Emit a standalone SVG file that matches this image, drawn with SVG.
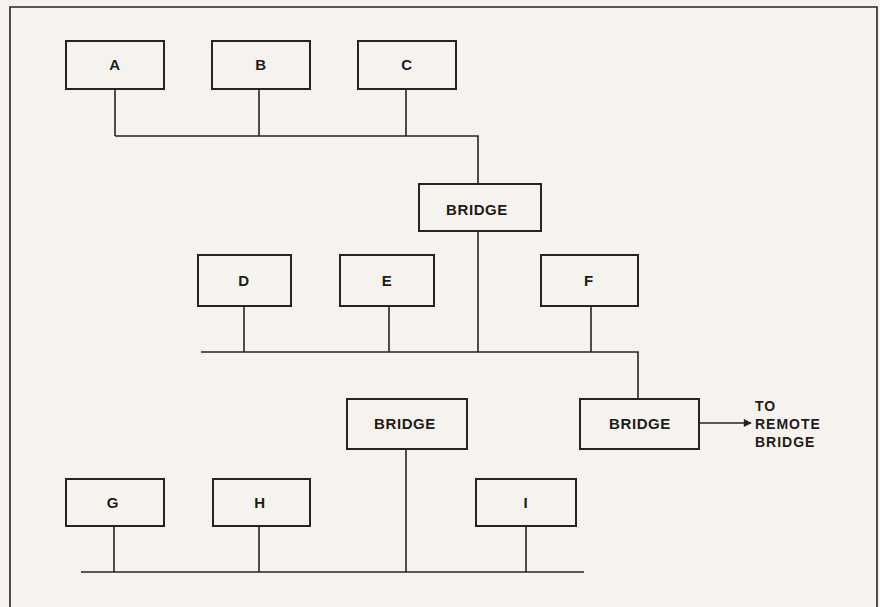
<svg xmlns="http://www.w3.org/2000/svg" width="880" height="607" viewBox="0 0 880 607">
<defs>
<style>
.box{fill:none;stroke:#262422;stroke-width:2}
.ln{fill:none;stroke:#262422;stroke-width:1.6}
.lbl{font-family:"Liberation Sans",Arial,sans-serif;font-weight:bold;font-size:15px;fill:#1e1c1a;text-anchor:middle;letter-spacing:0.6px}
.note{font-family:"Liberation Sans",Arial,sans-serif;font-weight:bold;font-size:14px;fill:#1e1c1a;letter-spacing:1px}
</style>
<marker id="arr" viewBox="0 0 10 10" refX="9" refY="5" markerWidth="9" markerHeight="8" orient="auto" markerUnits="userSpaceOnUse">
<path d="M0,0 L10,5 L0,10 z" fill="#262422"/>
</marker>
</defs>
<rect x="0" y="0" width="880" height="607" fill="#f6f3ee"/>
<path class="ln" d="M10,607 V7 H877 V607" stroke="#4a4744" stroke-width="1.5"/>
<g id="connectors">
<path class="ln" d="M115,89 V136 M259,89 V136 M406,89 V136 M115,136 H478 V183"/>
<path class="ln" d="M478,231 V352"/>
<path class="ln" d="M201,352 H638 V399 M244,306 V352 M389,306 V352 M591,306 V352"/>
<path class="ln" d="M406,449 V572"/>
<path class="ln" d="M81,572 H584 M114,526 V572 M259,526 V572 M526,526 V572"/>
<path class="ln" d="M699,423 H751" marker-end="url(#arr)"/>
</g>
<g id="node-A"><rect class="box" x="66" y="41" width="98" height="48"/><text class="lbl" x="115" y="70">A</text></g>
<g id="node-B"><rect class="box" x="212" y="41" width="98" height="48"/><text class="lbl" x="261" y="70">B</text></g>
<g id="node-C"><rect class="box" x="358" y="41" width="98" height="48"/><text class="lbl" x="407" y="70">C</text></g>
<g id="node-bridge1"><rect class="box" x="419" y="184" width="122" height="47"/><text class="lbl" x="477" y="215">BRIDGE</text></g>
<g id="node-D"><rect class="box" x="198" y="255" width="93" height="51"/><text class="lbl" x="244" y="286">D</text></g>
<g id="node-E"><rect class="box" x="340" y="255" width="94" height="51"/><text class="lbl" x="387" y="286">E</text></g>
<g id="node-F"><rect class="box" x="541" y="255" width="97" height="51"/><text class="lbl" x="589" y="286">F</text></g>
<g id="node-bridge2"><rect class="box" x="347" y="399" width="120" height="50"/><text class="lbl" x="405" y="429">BRIDGE</text></g>
<g id="node-bridge3"><rect class="box" x="580" y="399" width="119" height="50"/><text class="lbl" x="640" y="429">BRIDGE</text></g>
<g id="node-remote"><text class="note" x="755" y="411">TO</text><text class="note" x="755" y="429">REMOTE</text><text class="note" x="755" y="447">BRIDGE</text></g>
<g id="node-G"><rect class="box" x="66" y="479" width="98" height="47"/><text class="lbl" x="113" y="508">G</text></g>
<g id="node-H"><rect class="box" x="213" y="479" width="97" height="47"/><text class="lbl" x="260" y="508">H</text></g>
<g id="node-I"><rect class="box" x="476" y="479" width="100" height="47"/><text class="lbl" x="526" y="508">I</text></g>
</svg>
